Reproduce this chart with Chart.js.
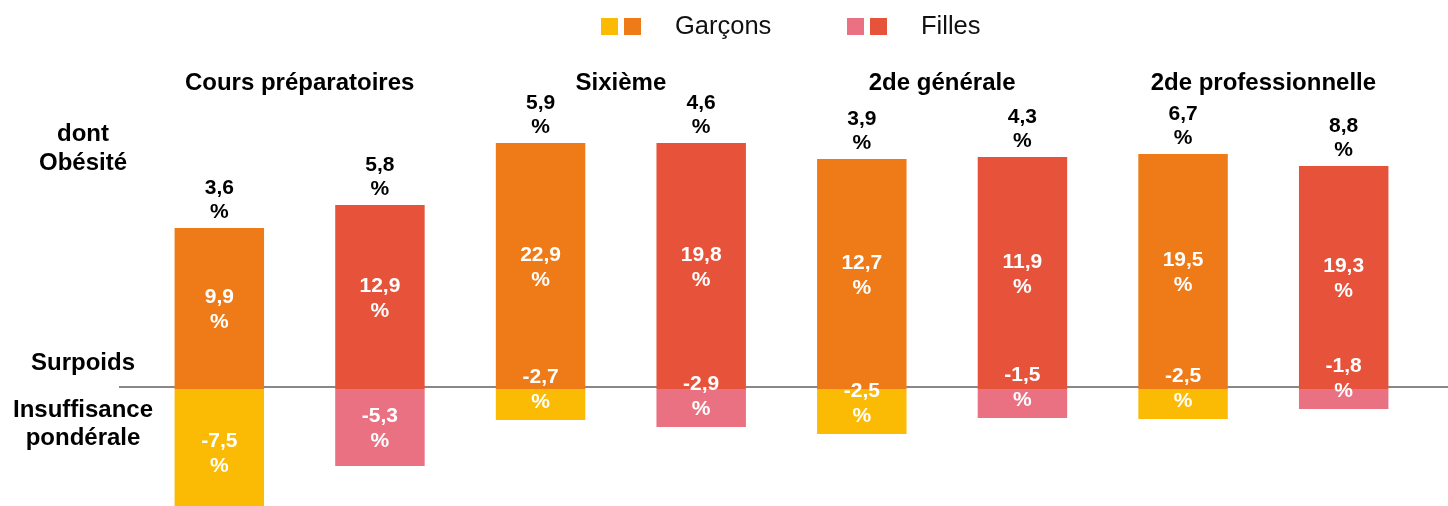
<!DOCTYPE html>
<html>
<head>
<meta charset="utf-8">
<script src="https://cdn.jsdelivr.net/npm/chart.js@4"></script>
<style>
  body { margin: 0; background: #fff; }
  #wrap { position: relative; width: 1448px; height: 506px; }
</style>
</head>
<body>
<div id="wrap"><canvas id="poidsChart"></canvas></div>
<script>
// groupes et séries
const categories = ['Cours préparatoires', 'Sixième', '2de générale', '2de professionnelle'];
const legendLabels = ['Garçons', 'Filles'];

// valeurs affichées (%)
const obesiteGarcons = [3.6, 5.9, 3.9, 6.7];
const obesiteFilles = [5.8, 4.6, 4.3, 8.8];
const surpoidsGarcons = [9.9, 22.9, 12.7, 19.5];
const surpoidsFilles = [12.9, 19.8, 11.9, 19.3];
const insuffGarcons = [-7.5, -2.7, -2.5, -2.5];
const insuffFilles = [-5.3, -2.9, -1.5, -1.8];

// hauteurs des barres telles que dessinées dans la source (pas à l'échelle des %)
const barSurpoidsGarcons = [16.1, 24.6, 23.0, 23.5];
const barSurpoidsFilles = [18.4, 24.6, 23.2, 22.3];
const barInsuffGarcons = [-12.6, -3.1, -4.5, -3.0];
const barInsuffFilles = [-7.7, -3.8, -2.9, -2.0];

const orange = '#EE7B18';
const rouge = '#E7533A';
const jaune = '#FBBB05';
const rose = '#EA7181';

const FONT = '"Liberation Sans", Arial, sans-serif';

// une barre par sexe et par groupe
const labels = [];
const posData = [], negData = [], posColors = [], negColors = [];
const topText = [], midText = [], negText = [];
categories.forEach((c, i) => {
    labels.push(c + ' G', c + ' F');
    posData.push(barSurpoidsGarcons[i], barSurpoidsFilles[i]);
    negData.push(barInsuffGarcons[i], barInsuffFilles[i]);
    posColors.push(orange, rouge);
    negColors.push(jaune, rose);
    topText.push(obesiteGarcons[i], obesiteFilles[i]);
    midText.push(surpoidsGarcons[i], surpoidsFilles[i]);
    negText.push(insuffGarcons[i], insuffFilles[i]);
});

const fmt = (v) => v.toFixed(1).replace('.', ',');

const textPlugin = {
    id: 'textPlugin',
    beforeDatasetsDraw(chart) {
        const ctx = chart.ctx;
        const y0 = chart.scales.y.getPixelForValue(0);
        ctx.save();
        ctx.strokeStyle = '#888888';
        ctx.lineWidth = 2;
        ctx.beginPath();
        ctx.moveTo(119, y0 - 2);
        ctx.lineTo(chart.width, y0 - 2);
        ctx.stroke();
        ctx.restore();
    },
    afterDatasetsDraw(chart) {
        const ctx = chart.ctx;
        ctx.save();
        ctx.textAlign = 'center';
        ctx.textBaseline = 'middle';
        ctx.font = 'bold 21px ' + FONT;
        const pos = chart.getDatasetMeta(0).data;
        const neg = chart.getDatasetMeta(1).data;
        pos.forEach((bar, i) => {
            // obésité au-dessus
            ctx.fillStyle = '#000';
            ctx.fillText(fmt(topText[i]), bar.x, bar.y - 40);
            ctx.fillText('%', bar.x, bar.y - 16);
            // surpoids dans la barre
            const mid = (bar.y + bar.base) / 2;
            ctx.fillStyle = '#fff';
            ctx.fillText(fmt(midText[i]), bar.x, mid - 11);
            ctx.fillText('%', bar.x, mid + 14);
        });
        neg.forEach((bar, i) => {
            const mid = (bar.y + bar.base) / 2 + 1.5;
            const c = Math.min(mid, bar.y - 30);
            ctx.fillStyle = '#fff';
            ctx.fillText(fmt(negText[i]), bar.x, c - 12.5);
            ctx.fillText('%', bar.x, c + 12.5);
        });
        ctx.restore();
    },
    afterDraw(chart) {
        const ctx = chart.ctx;
        const y0 = chart.scales.y.getPixelForValue(0);
        const pos = chart.getDatasetMeta(0).data;
        ctx.save();
        ctx.textBaseline = 'middle';

        // légende
        ctx.font = '25.5px ' + FONT;
        ctx.fillStyle = jaune; ctx.fillRect(601, 18, 17, 17);
        ctx.fillStyle = orange; ctx.fillRect(624, 18, 17, 17);
        ctx.fillStyle = rose; ctx.fillRect(847, 18, 17, 17);
        ctx.fillStyle = rouge; ctx.fillRect(870, 18, 17, 17);
        ctx.fillStyle = '#111';
        ctx.textAlign = 'left';
        ctx.fillText(legendLabels[0], 675, 27);
        ctx.fillText(legendLabels[1], 921, 27);

        // titres des groupes
        ctx.font = 'bold 24px ' + FONT;
        ctx.textAlign = 'center';
        ctx.fillStyle = '#000';
        categories.forEach((c, i) => {
            const x = (pos[2 * i].x + pos[2 * i + 1].x) / 2;
            ctx.fillText(c, x, 83);
        });

        // libellés à gauche
        ctx.fillText('dont', 83, 134);
        ctx.fillText('Obésité', 83, 163);
        ctx.fillText('Surpoids', 83, y0 - 26);
        ctx.fillText('Insuffisance', 83, y0 + 21);
        ctx.fillText('pondérale', 83, y0 + 49);
        ctx.restore();
    }
};

const ctx = document.getElementById('poidsChart');
new Chart(ctx, {
    type: 'bar',
    data: {
        labels: labels,
        datasets: [
            {
                label: 'Surpoids',
                data: posData,
                backgroundColor: posColors,
                borderWidth: 0,
                categoryPercentage: 1,
                barPercentage: 0.557
            },
            {
                label: 'Insuffisance pondérale',
                data: negData,
                backgroundColor: negColors,
                borderWidth: 0,
                categoryPercentage: 1,
                barPercentage: 0.557
            }
        ]
    },
    options: {
        responsive: true,
        maintainAspectRatio: false,
        animation: false,
        layout: {
            padding: { left: 139, right: 24, top: 100, bottom: 0 }
        },
        plugins: {
            legend: { display: false },
            tooltip: { enabled: false }
        },
        scales: {
            x: { display: false, stacked: true },
            y: { display: false, stacked: true, min: -11.7, max: 28.9 }
        }
    },
    plugins: [textPlugin]
});
</script>
</body>
</html>
